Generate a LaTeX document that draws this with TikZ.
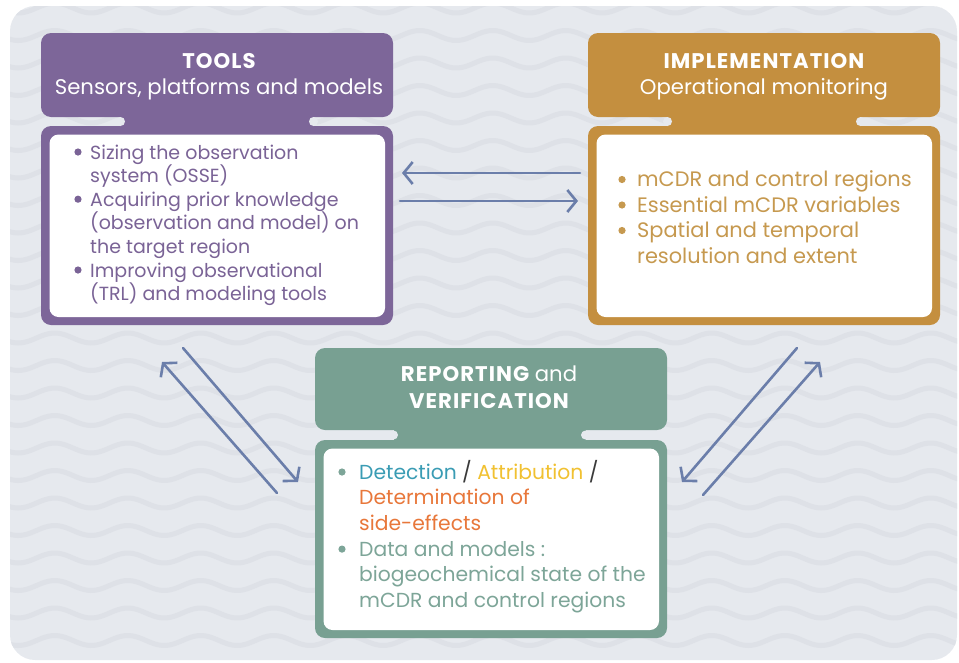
\documentclass[tikz,border=0pt]{standalone}
\usepackage{fontspec}
\setmainfont{Poppins}
\usetikzlibrary{arrows.meta}
\definecolor{bgc}{HTML}{E6E9EE}
\definecolor{wavec}{HTML}{DEE1E7}
\definecolor{purp}{HTML}{7D6699}
\definecolor{purptxt}{HTML}{7A6396}
\definecolor{goldc}{HTML}{C48F3F}
\definecolor{goldtxt}{HTML}{C6994F}
\definecolor{tealc}{HTML}{78A092}
\definecolor{tealtxt}{HTML}{7DA598}
\definecolor{detc}{HTML}{3A9CB4}
\definecolor{attc}{HTML}{F1C131}
\definecolor{detmc}{HTML}{E8773A}
\definecolor{slashc}{HTML}{3A3A3A}
\definecolor{arrc}{HTML}{6B7EAA}
\newcommand\boldtitle[1]{{\bfseries\addfontfeatures{LetterSpace=5}#1}}
\tikzset{
  linetext/.style={anchor=base west, inner sep=0pt, font=\fontsize{19}{24}\selectfont},
  linetextB/.style={linetext, font=\fontsize{20.9}{24}\selectfont},
  linetextC/.style={linetext, font=\fontsize{20.3}{24}\selectfont},
  titletext/.style={anchor=base, inner sep=0pt, text=white, font=\fontsize{21.2}{24}\selectfont},
  conn/.style={draw=arrc, line width=2.6pt, line cap=round,
    -{Straight Barb[length=9pt, width=22pt, line width=2.6pt]}},
}
% #1 x1, #2 x2, #3 header top, #4 header bottom, #5 body top, #6 body bottom, #7 neck left, #8 neck right, #9 colour
\newcommand\panelbox[9]{%
  \fill[#9, rounded corners=10pt] (#1,#3) rectangle (#2,#4);
  \fill[#9, rounded corners=10pt] (#1,#5) rectangle (#2,#6);
  \fill[#9] (#7-4.5,#4-3) rectangle (#8+4.5,#5+3);
  \fill[bgc] (#7-4.5,{(#4+#5)/2}) circle (4.5);
  \fill[bgc] (#8+4.5,{(#4+#5)/2}) circle (4.5);
  \fill[white, rounded corners=9pt] (#1+8.5,#5+8.5) rectangle (#2-8,#6-8);
}
\newcommand\bul[3]{\fill[#3] (#1,#2-7) circle (3.6);}
\begin{document}
\begin{tikzpicture}[x=1pt, y=-1pt]
\useasboundingbox (0,0) rectangle (959,662);
% background with waves
\begin{scope}
  \clip[rounded corners=25pt] (10,6) rectangle (957,660);
  \fill[bgc] (0,0) rectangle (959,662);
  \foreach \r in {0,...,24} {
    \draw[wavec, line width=5pt] plot[domain=0:960, samples=160, smooth]
      (\x, {8 + 27.5*\r + 5*sin((\x/73)*360)});
  }
\end{scope}

% panels
\panelbox{41}{393}{33}{117}{126}{325}{125}{309}{purp}
\panelbox{588}{940}{33}{117}{126}{325}{672}{856}{goldc}
\panelbox{315}{667}{348}{430}{440}{638}{398}{581}{tealc}

% TOOLS
\node[titletext] (tt1) at (219,68) {\boldtitle{TOOLS}};
\node[titletext] (tt2) at (219,94) {Sensors, platforms and models};
\bul{78}{159}{purptxt}
\bul{78}{206.2}{purptxt}
\bul{78}{277}{purptxt}
\node[linetext, text=purptxt] (tb1) at (90,159) {Sizing the observation};
\node[linetext, text=purptxt] (tb2) at (90,182.6) {system (OSSE)};
\node[linetext, text=purptxt] (tb3) at (90,206.2) {Acquiring prior knowledge};
\node[linetext, text=purptxt] (tb4) at (90,229.8) {(observation and model) on};
\node[linetext, text=purptxt] (tb5) at (90,253.4) {the target region};
\node[linetext, text=purptxt] (tb6) at (90,277) {Improving observational};
\node[linetext, text=purptxt] (tb7) at (90,300.6) {(TRL) and modeling tools};

% IMPLEMENTATION
\node[titletext] (it1) at (764,68) {\boldtitle{IMPLEMENTATION}};
\node[titletext] (it2) at (764,94) {Operational monitoring};
\bul{622}{186.5}{goldtxt}
\bul{622}{212}{goldtxt}
\bul{622}{237.5}{goldtxt}
\node[linetextB, text=goldtxt] (ib1) at (637,186.5) {mCDR and control regions};
\node[linetextB, text=goldtxt] (ib2) at (637,212) {Essential mCDR variables};
\node[linetextB, text=goldtxt] (ib3) at (637,237.5) {Spatial and temporal};
\node[linetextB, text=goldtxt] (ib4) at (637,263) {resolution and extent};

% REPORTING
\node[titletext] (rt1) at (489,381) {\boldtitle{REPORTING} and};
\node[titletext] (rt2) at (489,408) {\boldtitle{VERIFICATION}};
\bul{342}{479}{tealtxt}
\bul{342}{556.1}{tealtxt}
\node[linetextC] (rb1) at (359,479) {\textcolor{detc}{Detection} \textcolor{slashc}{/} \textcolor{attc}{Attribution} \textcolor{slashc}{/}};
\node[linetextC, text=detmc] (rb2) at (359,504.7) {Determination of};
\node[linetextC, text=detmc] (rb3) at (359,530.4) {side-effects};
\node[linetextC, text=tealtxt] (rb4) at (359,556.1) {Data and models :};
\node[linetextC, text=tealtxt] (rb5) at (359,581.8) {biogeochemical state of the};
\node[linetextC, text=tealtxt] (rb6) at (359,607.5) {mCDR and control regions};

% connectors
\coordinate (ha) at (580,173); \coordinate (hb) at (402,173);
\coordinate (hc) at (400,201); \coordinate (hd) at (578,201);
\coordinate (la) at (277,493); \coordinate (lb) at (162,362);
\coordinate (lc) at (183,348); \coordinate (ld) at (298,482);
\coordinate (ra) at (797,348); \coordinate (rb) at (682,482);
\coordinate (rc) at (703,495); \coordinate (rd) at (820,362);
\draw[conn] (ha) -- (hb);
\draw[conn] (hc) -- (hd);
\draw[conn] (la) -- (lb);
\draw[conn] (lc) -- (ld);
\draw[conn] (ra) -- (rb);
\draw[conn] (rc) -- (rd);
\end{tikzpicture}
\end{document}
